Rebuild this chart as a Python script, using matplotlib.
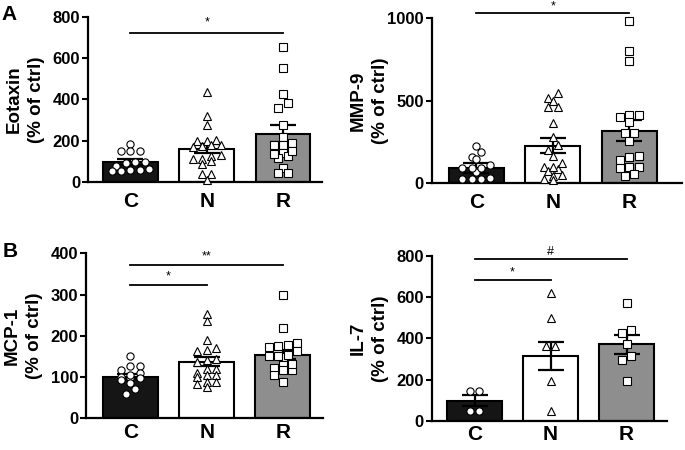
import numpy as np
import matplotlib
matplotlib.use("Agg")
import matplotlib.pyplot as plt

plt.rcParams['font.family'] = ['Liberation Sans', 'DejaVu Sans']
plt.rcParams['font.weight'] = 'bold'

groups = ['C', 'N', 'R']

# values (% of ctrl)
eotaxin_C = [185, 150, 150, 152, 100, 95, 80, 60, 55, 55, 58, 65, 100]
eotaxin_N = [435, 320, 276, 200, 200, 205, 175, 178, 170, 180, 130, 128, 110, 105, 112, 88, 42, 40, 12]
eotaxin_R = [655, 554, 425, 382, 358, 277, 220, 191, 180, 180, 141, 125, 115, 135, 150, 70, 43, 43]
eotaxin_mean = [97, 163, 235]
eotaxin_sem = [14, 22, 40]

mmp9_C = [113, 226, 188, 158, 147, 70, 91, 91, 91, 24, 24, 24, 30]
mmp9_N = [545, 515, 500, 460, 460, 367, 283, 232, 202, 165, 101, 87, 76, 101, 121, 46, 52, 20, 26]
mmp9_R = [983, 804, 741, 412, 412, 371, 400, 302, 302, 256, 167, 159, 141, 95, 101, 101, 55, 46]
mmp9_mean = [91, 228, 319]
mmp9_sem = [30, 44, 63]

mcp1_C = [150, 127, 126, 116, 110, 100, 97, 92, 96, 105, 84, 69, 57]
mcp1_N = [252, 235, 189, 164, 162, 171, 143, 135, 140, 118, 110, 118, 104, 100, 104, 88, 88, 75, 82]
mcp1_R = [299, 219, 177, 174, 182, 173, 162, 150, 147, 150, 153, 128, 116, 116, 121, 131, 104, 88]
mcp1_mean = [100, 136, 153]
mcp1_sem = [6, 11, 11]

il7_C = [146, 146, 50, 50]
il7_N = [619, 501, 365, 365, 194, 48]
il7_R = [571, 440, 427, 372, 315, 296, 194]
il7_mean = [98, 315, 372]
il7_sem = [27, 66, 45]

# significance bars: (group a, group b, height, label)
eotaxin_sig = [(0, 2, 720, '*')]
mmp9_sig = [(0, 2, 1034, '*')]
mcp1_sig = [(0, 1, 323, '*'), (0, 2, 373, '**')]
il7_sig = [(0, 1, 684, '*'), (0, 2, 784, '#')]

bar_colors = ['#151515', 'white', '#8e8e8e']
markers = ['o', '^', 's']
MS = 5.2  # marker size, points


def rows_layout(vals, ax, xc, diam_px):
    # prism-like scatter: points with close values share a row, spread sideways
    tr = ax.transData
    px_per_unit = tr.transform((xc + 1, 0))[0] - tr.transform((xc, 0))[0]
    ys = np.array([tr.transform((xc, v))[1] for v in vals])
    order = np.argsort(-ys)
    offs = np.zeros(len(vals))
    rows = []
    for i in order:
        if rows and ys[rows[-1][0]] - ys[i] < diam_px * 0.7:
            rows[-1].append(i)
        else:
            rows.append([i])
    spacing = diam_px * 1.3
    for r in rows:
        k = len(r)
        r = sorted(r, key=lambda j: ys[j])
        for n, j in enumerate(r):
            offs[j] = (n - (k - 1) / 2.0) * spacing
    return xc + offs / px_per_unit


def panel(rect, xlim, ylim, yticks, ylabel, pts, means, sems, sig, star_off, xpad):
    ax = fig.add_axes(rect)
    ax.set_xlim(*xlim)
    ax.set_ylim(*ylim)
    x = np.arange(3)
    ax.bar(x, means, width=0.72, color=bar_colors, edgecolor='black',
           linewidth=1.5, zorder=1)
    ax.errorbar(x, means, yerr=sems, fmt='none', ecolor='black',
                elinewidth=1.6, capsize=9.5, capthick=1.6, zorder=2)
    diam = MS * fig.dpi / 72.0
    for i, vals in enumerate(pts):
        xs = rows_layout(vals, ax, i, diam)
        ax.plot(xs, vals, linestyle='none', marker=markers[i], ms=MS,
                mfc='white', mec='black', mew=0.8, zorder=3, clip_on=False)
    for a, b, h, lab in sig:
        ax.plot([a, b], [h, h], color='black', lw=1.3, clip_on=False)
        ax.annotate(lab, xy=((a + b) / 2, h), xytext=(0, star_off),
                    textcoords='offset points', ha='center', va='center',
                    fontsize=9, fontweight='normal', annotation_clip=False)
    ax.set_xticks(x)
    ax.set_xticklabels(groups, fontsize=15, fontweight='bold')
    ax.tick_params(axis='x', length=0, pad=xpad)
    ax.set_yticks(yticks)
    ax.set_yticklabels([str(t) for t in yticks], fontsize=12, fontweight='bold')
    ax.tick_params(axis='y', length=4, width=1.5, pad=1.5)
    for s in ['top', 'right']:
        ax.spines[s].set_visible(False)
    for s in ['left', 'bottom']:
        ax.spines[s].set_linewidth(1.6)
    ax.set_ylabel(ylabel + '\n(% of ctrl)', fontsize=13.5, fontweight='bold',
                  linespacing=1.4)
    w_px = rect[2] * fig.get_figwidth() * fig.dpi
    ax.yaxis.set_label_coords(-43.0 / w_px, 0.5)
    return ax


fig = plt.figure(figsize=(6.85, 4.5), dpi=100)

panel([0.128, 0.595, 0.342, 0.368], (-0.561, 2.511), (0, 800), [0, 200, 400, 600, 800],
      'Eotaxin', [eotaxin_C, eotaxin_N, eotaxin_R], eotaxin_mean, eotaxin_sem, eotaxin_sig, 8, 7)
panel([0.630, 0.593, 0.365, 0.366], (-0.586, 2.682), (0, 1000), [0, 500, 1000],
      'MMP-9', [mmp9_C, mmp9_N, mmp9_R], mmp9_mean, mmp9_sem, mmp9_sig, 4.5, 7)
panel([0.1255, 0.0717, 0.346, 0.365], (-0.584, 2.526), (0, 400), [0, 100, 200, 300, 400],
      'MCP-1', [mcp1_C, mcp1_N, mcp1_R], mcp1_mean, mcp1_sem, mcp1_sig, 6, 4)
panel([0.630, 0.0644, 0.343, 0.367], (-0.567, 2.525), (0, 800), [0, 200, 400, 600, 800],
      'IL-7', [il7_C, il7_N, il7_R], il7_mean, il7_sem, il7_sig, 5, 3)

fig.text(0.002, 0.990, 'A', fontsize=15, fontweight='bold', va='top', ha='left')
fig.text(0.004, 0.462, 'B', fontsize=15, fontweight='bold', va='top', ha='left')

fig.savefig('out.png', dpi=100)
